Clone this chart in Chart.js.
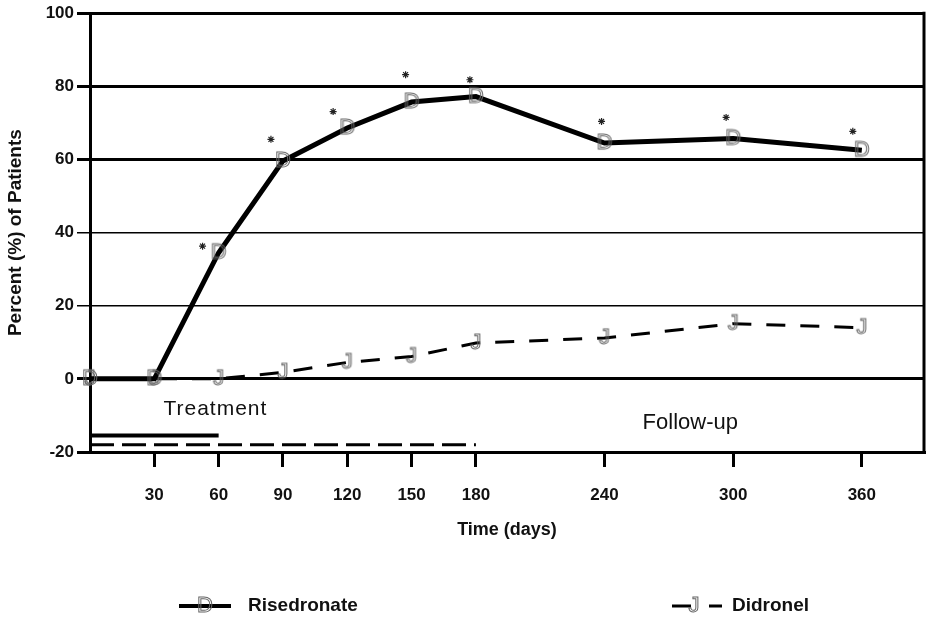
<!DOCTYPE html>
<html>
<head>
<meta charset="utf-8">
<script src="https://cdn.jsdelivr.net/npm/chart.js@4/dist/chart.umd.min.js"></script>
<style>
    html, body { margin: 0; padding: 0; background: #fff; }
    #wrap { width: 927px; height: 620px; }
</style>
</head>
<body>
<div id="wrap"><canvas id="chart" width="927" height="620"></canvas></div>
<script>
// values
const days = [0, 30, 60, 90, 120, 150, 180, 240, 300, 360]
const risedronate = [0, 0, 34.5, 59.6, 68.6, 75.7, 77.2, 64.5, 65.7, 62.5]
const didronel = [0, 0, 0, 1.8, 4.5, 6.1, 9.8, 11.2, 15.1, 14]

// asterisks (significance marks) next to the Risedronate points
const starDays = [52.5, 84.4, 113.4, 147.2, 177.2, 238.6, 296.7, 355.8]
const starValues = [36.3, 65.5, 73.1, 83.2, 81.8, 70.4, 71.5, 67.7]

// treatment periods drawn under the axis
const risTreatment = [0, 60]
const risTreatmentLevel = -15.5
const didTreatment = [0, 180]
const didTreatmentLevel = -18

const xTicks = [30, 60, 90, 120, 150, 180, 240, 300, 360]
const yTicks = [-20, 0, 20, 40, 60, 80, 100]
const majorLines = [-20, 0, 60, 80, 100]

const phaseLabels = ['Treatment', 'Follow-up']
const phaseDays = [58.5, 280]
const phaseValues = [-8.2, -12]

const legendNames = ['Risedronate', 'Didronel']

const FONT = '"Liberation Sans", Arial, sans-serif'

function glyphMarker(letter) {
    const c = document.createElement('canvas')
    c.width = 18
    c.height = 22
    const g = c.getContext('2d')
    g.font = '22px ' + FONT
    g.textAlign = 'center'
    g.textBaseline = 'middle'
    g.strokeStyle = '#666'
    g.lineWidth = 1
    g.strokeText(letter, 9, 11)
    return c
}

const markD = glyphMarker('D')
const markJ = glyphMarker('J')

const pairs = (xs, ys) => xs.map((x, i) => ({ x: x, y: ys[i] }))

const frame = {
    id: 'frame',
    afterDatasetsDraw(chart) {
        const { ctx, chartArea: a, scales } = chart
        ctx.save()
        ctx.strokeStyle = '#000'
        ctx.lineWidth = 3
        ctx.beginPath()
        ctx.moveTo(a.right, a.top - 1.5)
        ctx.lineTo(a.right, a.bottom + 1.5)
        ctx.stroke()

        // phase labels
        ctx.fillStyle = '#111'
        ctx.textAlign = 'center'
        ctx.textBaseline = 'middle'
        phaseLabels.forEach((t, i) => {
            ctx.font = (i === 0 ? '21px ' : '22px ') + FONT
            ctx.letterSpacing = i === 0 ? '1px' : '0px'
            ctx.fillText(t, scales.x.getPixelForValue(phaseDays[i]), scales.y.getPixelForValue(phaseValues[i]))
        })
        ctx.letterSpacing = '0px'
        ctx.restore()
    },
    afterDraw(chart) {
        // legend under the axis title
        const ctx = chart.ctx
        const y = 606
        ctx.save()
        ctx.strokeStyle = '#000'
        ctx.lineWidth = 4
        ctx.beginPath()
        ctx.moveTo(179, y)
        ctx.lineTo(231, y)
        ctx.stroke()
        ctx.drawImage(markD, 205 - 9, y - 11)

        ctx.lineWidth = 3
        ctx.setLineDash([19, 18])
        ctx.beginPath()
        ctx.moveTo(672, y)
        ctx.lineTo(722, y)
        ctx.stroke()
        ctx.setLineDash([])
        ctx.drawImage(markJ, 694 - 9, y - 11)

        ctx.fillStyle = '#111'
        ctx.font = 'bold 19px ' + FONT
        ctx.textAlign = 'left'
        ctx.textBaseline = 'middle'
        ctx.fillText(legendNames[0], 248, y)
        ctx.fillText(legendNames[1], 732, y)
        ctx.restore()
    }
}

new Chart(document.getElementById('chart').getContext('2d'), {
    type: 'scatter',
    data: {
        datasets: [{
            label: legendNames[0],
            data: pairs(days, risedronate),
            showLine: true,
            borderColor: '#000',
            borderWidth: 5,
            pointStyle: markD,
            clip: false,
            order: 1
        }, {
            label: legendNames[1],
            data: pairs(days, didronel),
            showLine: true,
            borderColor: '#000',
            borderWidth: 3,
            borderDash: [19, 15],
            pointStyle: markJ,
            clip: false,
            order: 2
        }, {
            label: 'stars',
            data: pairs(starDays, starValues),
            showLine: false,
            pointStyle: 'star',
            radius: 3.5,
            borderColor: '#222',
            borderWidth: 1.2
        }, {
            label: 'ris-treatment',
            data: pairs(risTreatment, [risTreatmentLevel, risTreatmentLevel]),
            showLine: true,
            borderColor: '#000',
            borderWidth: 4,
            pointRadius: 0,
            clip: false
        }, {
            label: 'did-treatment',
            data: pairs(didTreatment, [didTreatmentLevel, didTreatmentLevel]),
            showLine: true,
            borderColor: '#000',
            borderWidth: 3,
            borderDash: [24, 8],
            pointRadius: 0,
            clip: false
        }]
    },
    options: {
        responsive: false,
        animation: false,
        events: [],
        layout: { autoPadding: false, padding: { top: 12, right: 3, left: 0, bottom: 0 } },
        plugins: {
            legend: { display: false },
            tooltip: { enabled: false }
        },
        scales: {
            x: {
                type: 'linear',
                min: 0,
                max: 389,
                afterFit: s => {
                    s.height = 168
                    s.paddingLeft = 0
                    s.paddingRight = 0
                },
                afterBuildTicks: s => { s.ticks = xTicks.map(v => ({ value: v })) },
                grid: { drawOnChartArea: false, color: '#000', lineWidth: 3, tickLength: 15 },
                border: { display: true, color: '#000', width: 3 },
                ticks: {
                    color: '#111',
                    padding: 18,
                    maxRotation: 0,
                    font: { family: FONT, size: 17, weight: 'bold' }
                },
                title: {
                    display: true,
                    text: 'Time (days)',
                    color: '#111',
                    padding: { top: 0, bottom: 79 },
                    font: { family: FONT, size: 18, weight: 'bold' }
                }
            },
            y: {
                min: -20,
                max: 100,
                afterFit: s => { s.width = 90 },
                afterBuildTicks: s => { s.ticks = yTicks.map(v => ({ value: v })) },
                grid: {
                    color: '#000',
                    tickLength: 13,
                    lineWidth: c => majorLines.includes(c.tick && c.tick.value) ? 3 : 1.5
                },
                border: { display: true, color: '#000', width: 3 },
                ticks: {
                    color: '#111',
                    padding: 3,
                    font: { family: FONT, size: 17, weight: 'bold' }
                },
                title: {
                    display: true,
                    text: 'Percent (%) of Patients',
                    color: '#111',
                    padding: { top: 4, bottom: 0 },
                    font: { family: FONT, size: 19, weight: 'bold' }
                }
            }
        }
    },
    plugins: [frame]
})
</script>
</body>
</html>
